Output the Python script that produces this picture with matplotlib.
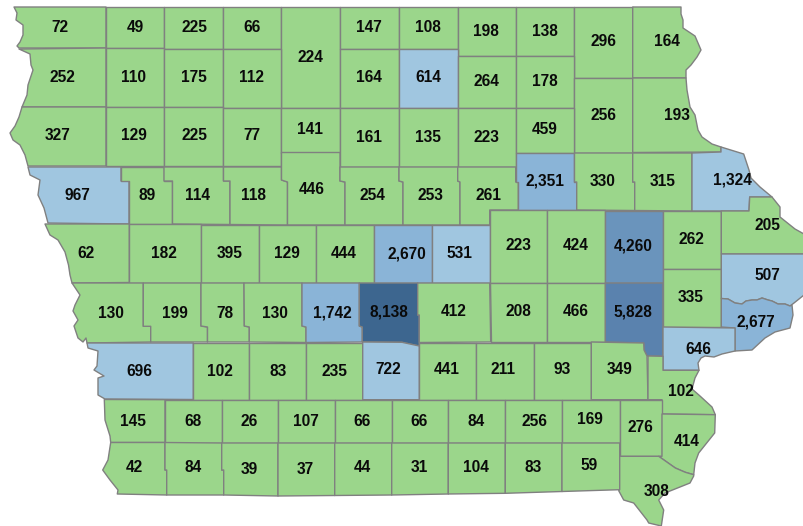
"""Iowa county map, counts per county."""

import matplotlib
matplotlib.use("Agg")
import matplotlib.pyplot as plt
from matplotlib.patches import Polygon

# county values, north to south, west to east
row1_values = [72, 49, 225, 66, 224, 147, 108, 198, 138, 296, 164]
row2_values = [252, 110, 175, 112, 164, 614, 264, 178, 256, 193]
row3_values = [327, 129, 225, 77, 141, 161, 135, 223, 459]
row4_values = [967, 89, 114, 118, 446, 254, 253, 261, 2351, 330, 315, 1324]
row5_values = [62, 182, 395, 129, 444, 2670, 531, 223, 424, 4260, 262, 205]
row6_values = [130, 199, 78, 130, 1742, 8138, 412, 208, 466, 5828, 335, 507, 2677]
row7_values = [696, 102, 83, 235, 722, 441, 211, 93, 349, 646, 102]
row8_values = [145, 68, 26, 107, 66, 66, 84, 256, 169, 276, 414]
row9_values = [42, 84, 39, 37, 44, 31, 104, 83, 59, 308]

values = (row1_values + row2_values + row3_values + row4_values + row5_values
          + row6_values + row7_values + row8_values + row9_values)

# class breaks and colours
breaks = [500, 1500, 3000, 5000, 7000]
class_colors = ['#9bd68b', '#a0c6e0', '#8ab4d7', '#6a94bc', '#5a82ae', '#3d668f']

# label centres
label_xy = [
    (59.5, 27.5), (135, 27.5), (194, 27.5), (252, 27.5), (310, 57), (369, 27.5), (428, 27), (486, 32), (545, 32), (603, 42), (667, 42),
    (62, 78), (134, 77), (194, 78), (252, 78), (369, 78), (428, 78), (486, 82), (545, 82), (603, 115), (677, 115),
    (58, 136), (134, 136), (194, 136), (252, 136), (310, 129), (369, 137), (428, 137), (486, 137), (545, 130),
    (77, 195), (147, 195), (198, 195), (254, 195), (312, 189), (372, 195), (430, 195), (488, 196), (545, 181), (603, 181), (663, 181), (732, 180),
    (86, 254), (164, 254), (230, 254), (287, 254), (344, 254), (407, 254), (459, 254), (518, 246), (576, 246), (633, 246), (691, 240), (767, 225),
    (111, 313), (175, 313), (225, 313), (275, 313), (332, 313), (389, 312), (454, 312), (518, 312), (576, 312), (633, 312), (691, 297), (767, 276), (756, 322),
    (139, 371), (220, 371), (278, 371), (334, 371), (388, 370), (447, 370), (503, 370), (562, 370), (620, 370), (698, 349), (681, 391),
    (133, 421), (193, 421), (249, 421), (306, 421), (362, 421), (419, 421), (476, 421), (534, 421), (590, 420), (640, 427), (687, 442),
    (134, 467), (193, 468), (249, 469), (305, 469), (362, 468), (419, 468), (476, 467), (533, 467), (589, 466), (657, 491),
]


def box(x0, y0, x1, y1):
    return [(x0, y0), (x1, y0), (x1, y1), (x0, y1)]


# county outlines in image pixels (map geometry, same order as values)
shapes = [
    # row 1
    [(14, 7), (106, 7), (106, 48), (19, 48), (17, 46), (20, 42), (23, 35), (23, 25), (16, 20), (17, 13)],
    box(106, 7, 164, 48), box(164, 7, 223.5, 49), box(223.5, 7, 281.5, 49), box(281.5, 7, 340, 108),
    box(340, 7, 399, 48.5), box(399, 7, 457.7, 49), box(457.7, 7, 515.7, 55.5), box(515.7, 7, 574.5, 55.5),
    box(574.5, 7, 632.7, 78),
    [(632.7, 7), (681, 7), (681, 14), (683, 20), (683, 28), (695, 36), (701, 50), (697, 57), (691, 65), (686, 70), (686, 78), (632.7, 78)],
    # row 2
    [(19, 49), (106, 48), (106, 107), (22, 107), (27, 95), (28, 85), (31, 76), (33, 70), (31, 65), (30, 54)],
    box(106, 48, 164, 107), box(164, 49, 223.5, 107), box(223.5, 49, 281.5, 108), box(340, 48.5, 399, 108),
    box(399, 49, 457.7, 107.5), box(457.7, 55.5, 515.7, 108), box(515.7, 55.5, 574.5, 108), box(574.5, 78, 632.7, 152.5),
    [(632.7, 78), (686, 78), (687, 90), (690, 107), (695, 115), (698, 130), (702, 137), (712, 144), (721, 147), (721, 152), (632.7, 152.5)],
    # row 3
    [(22, 107), (106, 107), (106, 166), (28, 166), (25, 155), (20, 145), (13, 140), (10, 133), (15, 126), (19, 117)],
    box(106, 107, 164, 166), box(164, 107, 223.5, 166), box(223.5, 108, 281.5, 166), box(281.5, 108, 340, 152.5),
    box(340, 108, 399, 167), box(399, 107.5, 457.7, 167), box(457.7, 108, 515.7, 167), box(515.7, 108, 574.5, 153),
    # row 4
    [(28, 167), (121, 167), (121, 181), (129, 181), (129, 224), (48, 223), (44, 208), (38, 195), (40, 180), (30, 175)],
    [(121, 167), (164, 167), (164, 181), (172.5, 181), (172.5, 224), (129, 224), (129, 181), (121, 181)],
    [(164, 167), (223.5, 167), (223.5, 181), (230, 181), (230, 224.5), (172.5, 224), (172.5, 181), (164, 181)],
    [(223.5, 167), (281.5, 167), (281.5, 180), (287.5, 182), (287.5, 225), (230, 224.5), (230, 181), (223.5, 181)],
    [(281.5, 152.5), (340, 152.5), (340, 181), (345, 182), (345, 225), (287.5, 225), (287.5, 182), (281.5, 180)],
    [(340, 167), (399, 167), (399, 181), (403, 182), (403, 225), (345, 225), (345, 182), (340, 181)],
    [(399, 167), (457.7, 167), (457.7, 181), (460, 182), (460, 225), (403, 225), (403, 182), (399, 181)],
    [(457.7, 167), (515.7, 167), (515.7, 182), (518.3, 182), (518.3, 210), (489.7, 210), (489.7, 225), (460, 225), (460, 182), (457.7, 181)],
    [(515.7, 153), (574.5, 153), (574.5, 182), (576.7, 182), (576.7, 210), (518.3, 210), (518.3, 182), (515.7, 182)],
    [(574.5, 153), (632.7, 153), (632.7, 182), (634.7, 182), (634.7, 210.5), (576.7, 210), (576.7, 182), (574.5, 182)],
    [(632.7, 153), (692, 153), (692, 211), (634.7, 210.5), (634.7, 182), (632.7, 182)],
    [(692, 153), (721, 152), (721, 147), (743.7, 154), (749, 170), (751, 178), (760, 187), (772, 197), (749.7, 197), (749, 211), (692, 211)],
    # row 5
    [(45, 224), (129.3, 224), (129.3, 282.5), (72, 283), (70, 275), (68.5, 265), (65, 252), (58, 240), (50, 235)],
    box(129.3, 224, 201, 282.5), box(201, 224.5, 258.7, 282.5), box(258.7, 224.5, 316, 282.5), box(316, 225, 374, 283),
    box(374, 225, 432, 283), box(432, 225, 489.7, 283), box(489.7, 210, 547.3, 283), box(547.3, 210, 605.3, 283),
    box(605.3, 210.5, 663, 283), box(663, 211, 721.3, 269),
    [(749.7, 197), (772, 197), (780, 207), (780, 217), (795, 229), (804, 234), (804, 254), (721.3, 254), (721.3, 211), (749, 211)],
    # row 6
    [(72, 283), (143.3, 283), (143.3, 326.3), (150.7, 326.3), (150.7, 342), (87, 343), (86, 338), (83, 342), (78, 338), (74, 326), (78, 320), (73, 311), (75, 305), (80, 295)],
    [(143.3, 283), (201, 283), (201, 326), (207.5, 327), (207.5, 342), (150.7, 342), (150.7, 326.3), (143.3, 326.3)],
    [(201, 283), (244, 283), (244.3, 326), (249.3, 327), (249.3, 342), (207.5, 342), (207.5, 327), (201, 326)],
    [(244, 283), (302, 283), (302, 326), (306, 327), (306, 342.5), (249.3, 342), (249.3, 327), (244.3, 326)],
    [(302, 283), (359.3, 283), (359.3, 326), (362.3, 327), (362.3, 342), (306, 342.5), (306, 327), (302, 326)],
    [(359.3, 283), (417.7, 283), (417.7, 315), (419.3, 315), (419.3, 346), (402, 342.3), (362.3, 342), (362.3, 327), (359.3, 326)],
    [(417.7, 283), (489.7, 283), (490.7, 342), (419.3, 342.5), (419.3, 315), (417.7, 315)],
    [(489.7, 283), (547.3, 283), (547.3, 342), (490.7, 342)],
    box(547.3, 283, 605.3, 342),
    [(605.3, 283), (663, 283), (663, 356.3), (647, 356), (644, 350), (643.7, 343), (605.3, 342)],
    box(663, 269, 721.3, 327),
    [(721.3, 254), (804, 254), (804, 295), (794, 303), (790, 306), (785, 304), (778, 304), (772, 301), (768, 300), (762, 298), (757, 300), (752, 300), (746, 301), (742, 304), (735, 303), (728, 299), (721.3, 298.5)],
    [(721.3, 298.5), (728, 299), (735, 303), (742, 304), (746, 301), (752, 300), (757, 300), (762, 298), (768, 300), (772, 301), (778, 304), (785, 304), (790, 306), (792, 305), (793, 315), (790, 328), (775, 332), (765, 338), (752, 350), (735, 351), (735, 328), (721.3, 327)],
    # row 7
    [(87, 343), (193.3, 343), (193.3, 399.5), (105, 399), (98, 395), (98, 378), (104, 376), (94, 370), (97, 366), (98, 351), (88, 348)],
    box(193.3, 342.5, 249.5, 400), box(249.5, 342.5, 306.5, 400), box(306.5, 342.5, 362.7, 400),
    [(362.7, 342), (402, 342.3), (419.3, 346), (419.3, 399.7), (362.7, 399.7)],
    box(419.5, 342.5, 476.3, 399.7), box(476.3, 342.5, 533.7, 399.7), box(533.7, 342.5, 591.3, 399.7),
    [(591.3, 342), (643.7, 343), (644, 350), (647, 356), (648, 399.7), (591.3, 399.7)],
    [(663, 327), (735, 328), (735, 351), (722, 354), (714, 357), (705, 356), (701, 358), (698, 363), (699, 370.3), (663, 370.3)],
    [(648, 356), (663, 356.3), (663, 370.3), (699, 370.3), (695, 378), (692, 389), (700, 396), (712, 407), (715.3, 414.7), (662, 414), (662, 399.7), (648, 399.7)],
    # row 8
    [(104.3, 399.5), (165, 399.7), (165, 442.5), (110.7, 442.5), (110, 436), (105, 420)],
    box(165, 399.7, 221.7, 443), box(221.7, 399.7, 278, 443), box(278, 399.7, 334.7, 443), box(334.7, 399.7, 391.7, 443),
    box(391.7, 399.7, 448.3, 443), box(448.3, 399.7, 505.3, 443), box(505.3, 399.7, 562.3, 443), box(562.3, 399.7, 619.7, 443),
    box(619.7, 399.7, 662, 456.3),
    [(662, 414), (715.3, 414.7), (714.7, 433), (698.7, 453), (695, 463), (693.7, 474.7), (685.3, 472.3), (675.3, 468), (658.7, 456.3), (662, 456.3)],
    # row 9
    [(110.7, 442.5), (165, 442.5), (165, 470), (166.7, 470), (166.7, 495), (117.3, 494), (118, 490), (110, 480), (102.7, 470), (108, 460)],
    [(165, 442.5), (221.7, 443), (221.7, 470), (223.7, 470), (223.7, 495), (166.7, 495), (166.7, 470), (165, 470)],
    [(221.7, 443), (278, 443), (278, 496), (223.7, 495), (223.7, 470), (221.7, 470)],
    [(278, 443), (334.7, 443), (334.7, 495.5), (278, 496)],
    [(334.7, 443), (391.7, 443), (391.7, 495), (334.7, 495.5)],
    [(391.7, 443), (448.3, 443), (448.3, 494), (391.7, 495)],
    [(448.3, 443), (505.3, 443), (505.3, 493.3), (448.3, 494)],
    [(505.3, 443), (562, 443), (562, 491.5), (505.3, 493.3)],
    [(562, 443), (619.7, 443), (619.7, 489.7), (562, 491.5)],
    [(619.7, 456.3), (658.7, 456.3), (675.3, 468), (685.3, 472.3), (693.7, 474.7), (693.7, 476), (690, 483), (665, 493), (658.7, 500), (663.7, 510), (661.3, 526), (648.7, 523), (647, 520), (633.7, 503), (623.7, 500), (618.7, 490.7), (619.7, 489.7)],
]


def value_color(v):
    for limit, color in zip(breaks, class_colors):
        if v < limit:
            return color
    return class_colors[-1]


def main():
    plt.rcParams['font.family'] = ['Liberation Sans', 'DejaVu Sans']

    fig = plt.figure(figsize=(8.04, 5.26), dpi=100)
    ax = fig.add_axes([0, 0, 1, 1])
    ax.set_xlim(0, 804)
    ax.set_ylim(526, 0)
    ax.axis('off')

    for shape, v in zip(shapes, values):
        ax.add_patch(Polygon(shape, closed=True, facecolor=value_color(v),
                             edgecolor='#808080', linewidth=1.0, joinstyle='round'))

    for (x, y), v in zip(label_xy, values):
        ax.text(x, y, f'{v:,}', ha='center', va='center', fontsize=11.2,
                fontweight='bold', color='#0a0a0a')

    fig.savefig('out.png', dpi=100)
    plt.close(fig)


if __name__ == "__main__":
    main()
